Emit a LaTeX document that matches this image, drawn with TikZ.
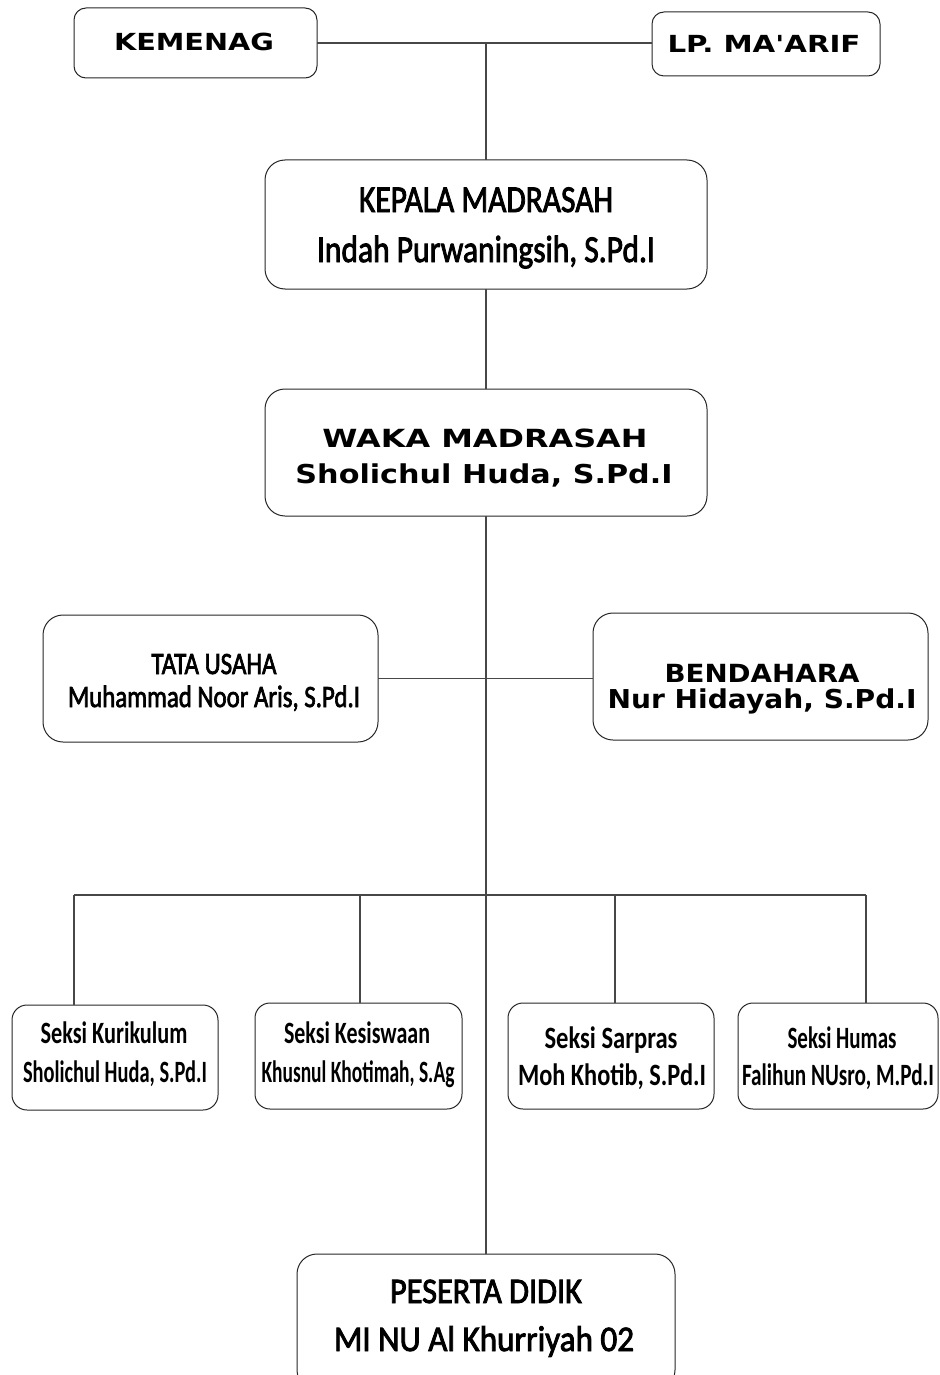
\documentclass[tikz,border=0pt]{standalone}
\usepackage{fontspec}
\usepackage{graphicx}
\setmainfont{Carlito}
\newfontfamily\vfont{DejaVu Sans}
\newfontfamily\calsemi[FakeBold=2.5]{Carlito}
\newcommand\orgtext[6]{\node[anchor=base, inner sep=0pt, outer sep=0pt, font=#4] (#1) at (#2,#3) {\resizebox{#5pt}{\height}{#6}};}
\tikzset{
  box/.style={draw=black!85, line width=1pt, inner sep=0pt, outer sep=0pt, rounded corners=#1},
  box/.default=16pt,
  conn/.style={draw=black!72, line width=1.1pt},
}
\begin{document}
\begin{tikzpicture}[x=1pt,y=-1pt]
\useasboundingbox (0,0) rectangle (939,1375);
\clip (0,0) rectangle (939,1375);

% boxes
\node[box=12pt, minimum width=243pt, minimum height=70pt]  (kem)  at (195.5,43) {};
\node[box=12pt, minimum width=228pt, minimum height=64pt]  (lp)   at (766,44) {};
\node[box=20pt, minimum width=442pt, minimum height=129pt] (kep)  at (486,224.5) {};
\node[box=20pt, minimum width=442pt, minimum height=127pt] (waka) at (486,452.5) {};
\node[box=20pt, minimum width=335pt, minimum height=127pt] (tu)   at (210.5,678.5) {};
\node[box=20pt, minimum width=335pt, minimum height=127pt] (ben)  at (760.5,676.5) {};
\node[box=15pt, minimum width=206pt, minimum height=105pt] (kur)  at (115,1057.5) {};
\node[box=15pt, minimum width=207pt, minimum height=106pt] (kes)  at (358.5,1056) {};
\node[box=15pt, minimum width=206pt, minimum height=106pt] (sar)  at (611,1056) {};
\node[box=15pt, minimum width=200pt, minimum height=106pt] (hum)  at (838,1056) {};
\node[box=20pt, minimum width=378pt, minimum height=136pt] (pes)  at (486,1322) {};

% connectors
\draw[conn] (kem.east) -- (kem.east -| lp.west);
\draw[conn] (kem.east -| kep.north) -- (kep.north);
\draw[conn] (kep.south) -- (waka.north);
\draw[conn] (waka.south) -- (pes.north);
\draw[conn] (tu.east) -- (tu.east -| ben.west);
\coordinate (dKur) at (74,895);
\coordinate (dKes) at (360,895);
\coordinate (dSar) at (615,895);
\coordinate (dHum) at (866,895);
\draw[conn] (dKur) -- (dHum);
\draw[conn] (dKur) -- (dKur |- kur.north);
\draw[conn] (dKes) -- (dKes |- kes.north);
\draw[conn] (dSar) -- (dSar |- sar.north);
\draw[conn] (dHum) -- (dHum |- hum.north);

% texts
\orgtext{kemT}{194}{51}{\vfont\bfseries\fontsize{23.5}{27}\selectfont}{160}{KEMENAG}
\orgtext{lpT}{764}{53}{\vfont\bfseries\fontsize{23.5}{27}\selectfont}{193}{LP. MA\textquotesingle ARIF}
\orgtext{kepT1}{486}{212}{\calsemi\fontsize{38}{44}\selectfont}{254}{KEPALA MADRASAH}
\orgtext{kepT2}{486}{262}{\calsemi\fontsize{38}{44}\selectfont}{338}{Indah Purwaningsih, S.Pd.I}
\orgtext{wakT1}{485}{447}{\vfont\bfseries\fontsize{25}{29}\selectfont}{325}{WAKA MADRASAH}
\orgtext{wakT2}{484}{483}{\vfont\bfseries\fontsize{26}{30}\selectfont}{377}{Sholichul Huda, S.Pd.I}
\orgtext{tuT1}{214}{674}{\calsemi\fontsize{31}{36}\selectfont}{125}{TATA USAHA}
\orgtext{tuT2}{214}{707}{\calsemi\fontsize{31}{36}\selectfont}{292}{Muhammad Noor Aris, S.Pd.I}
\orgtext{benT1}{762}{682}{\vfont\bfseries\fontsize{25}{29}\selectfont}{195}{BENDAHARA}
\orgtext{benT2}{762}{708}{\vfont\bfseries\fontsize{26}{30}\selectfont}{309}{Nur Hidayah, S.Pd.I}
\orgtext{kurT1}{114}{1043}{\bfseries\fontsize{31}{36}\selectfont}{147}{Seksi Kurikulum}
\orgtext{kurT2}{115}{1082}{\bfseries\fontsize{31}{36}\selectfont}{184}{Sholichul Huda, S.Pd.I}
\orgtext{kesT1}{357}{1043}{\bfseries\fontsize{31}{36}\selectfont}{146}{Seksi Kesiswaan}
\orgtext{kesT2}{358}{1082}{\bfseries\fontsize{31}{36}\selectfont}{193}{Khusnul Khotimah, S.Ag}
\orgtext{sarT1}{611}{1048}{\bfseries\fontsize{31}{36}\selectfont}{133}{Seksi Sarpras}
\orgtext{sarT2}{612}{1085}{\bfseries\fontsize{31}{36}\selectfont}{188}{Moh Khotib, S.Pd.I}
\orgtext{humT1}{842}{1048}{\bfseries\fontsize{31}{36}\selectfont}{109}{Seksi Humas}
\orgtext{humT2}{838}{1085}{\bfseries\fontsize{31}{36}\selectfont}{192}{Falihun NUsro, M.Pd.I}
\orgtext{pesT1}{486}{1303}{\calsemi\fontsize{36}{40}\selectfont}{192}{PESERTA DIDIK}
\orgtext{pesT2}{484}{1351}{\calsemi\fontsize{36}{40}\selectfont}{300}{MI NU Al Khurriyah 02}
\end{tikzpicture}
\end{document}
